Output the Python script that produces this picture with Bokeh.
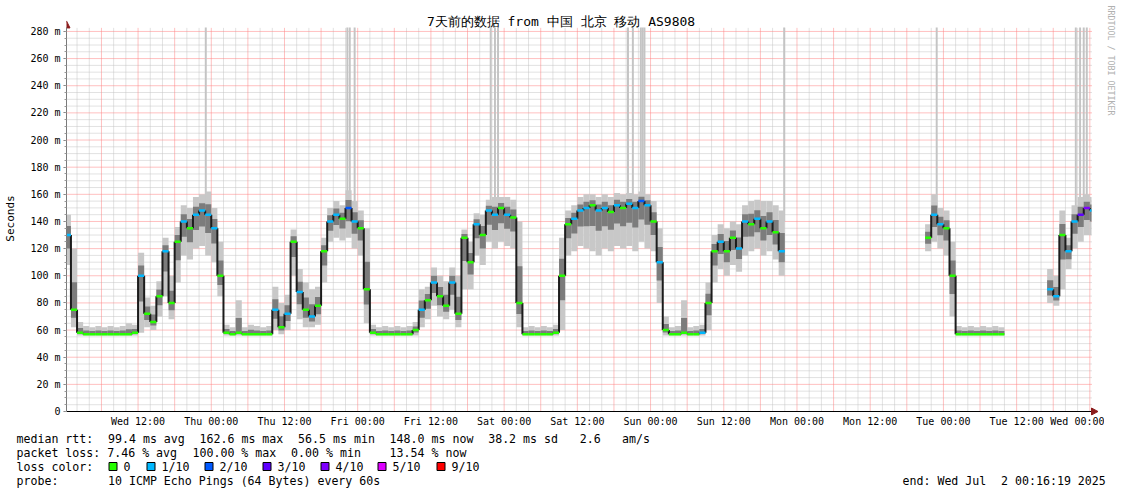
import re
import math
from bokeh.plotting import figure
from bokeh.models import Range1d, FixedTicker, ColumnDataSource
from bokeh.layouts import column, row
from bokeh.core.properties import value
from bokeh.embed import file_html
from bokeh.resources import INLINE

# ---------------- data (hour index 0 = Wed 2025-06-25 00:00) ----------------
title_text = "7天前的数据 from 中国 北京 移动 AS9808"
x_tick_hours = [12, 24, 36, 48, 60, 72, 84, 96, 108, 120, 132, 144, 156, 168]
x_tick_labels = ["Wed 12:00", "Thu 00:00", "Thu 12:00", "Fri 00:00", "Fri 12:00",
                 "Sat 00:00", "Sat 12:00", "Sun 00:00", "Sun 12:00", "Mon 00:00",
                 "Mon 12:00", "Tue 00:00", "Tue 12:00", "Wed 00:00"]
y_ticks = [0, 20, 40, 60, 80, 100, 120, 140, 160, 180, 200, 220, 240, 260, 280]
y_tick_labels = ["0", "20 m", "40 m", "60 m", "80 m", "100 m", "120 m", "140 m",
                 "160 m", "180 m", "200 m", "220 m", "240 m", "260 m", "280 m"]

N = None
median_ms = [
    130, 75, 58, 57, 57, 57, 57, 57, 57, 57, 57, 58,
    100, 72, 66, 85, 118, 80, 125, 140, 135, 145, 148, 145,
    135, 100, 58, 57, 58, 57, 57, 57, 57, 57, 75, 62,
    72, 125, 88, 75, 70, 78, 118, 140, 145, 142, 150, 140,
    135, 90, 58, 57, 57, 57, 57, 57, 57, 60, 75, 82,
    95, 85, 78, 95, 72, 128, 110, 138, 130, 148, 145, 150,
    145, 143, 80, 57, 57, 57, 57, 57, 58, 100, 138, 142,
    148, 150, 152, 148, 150, 147, 152, 150, 153, 150, 155, 152,
    140, 110, 60, 57, 57, 58, 57, 57, 58, 80, 118, 125,
    118, 128, 120, 140, 138, 142, 135, 140, 132, 118, N, N,
    N, N, N, N, N, N, N, N, N, N, N, N,
    N, N, N, N, N, N, N, N, N, 128, 145, 138,
    135, 100, 57, 57, 57, 57, 57, 57, 57, 57, N, N,
    N, N, N, N, N, 90, 85, 130, 118, 140, 145, 150,
    148,
]
smoke_lo_ms = [
    108, 62, 56, 56, 56, 56, 56, 56, 56, 56, 56, 56,
    58, 62, 60, 70, 85, 68, 95, 115, 112, 120, 122, 115,
    110, 85, 56, 56, 56, 56, 56, 56, 56, 56, 60, 57,
    60, 100, 68, 62, 62, 64, 95, 125, 128, 126, 128, 120,
    115, 65, 56, 56, 56, 56, 56, 56, 56, 56, 62, 68,
    78, 70, 68, 75, 62, 90, 90, 115, 108, 125, 120, 125,
    122, 120, 62, 56, 56, 56, 56, 56, 56, 60, 115, 118,
    122, 120, 118, 115, 120, 118, 122, 120, 122, 118, 125, 120,
    118, 80, 56, 56, 56, 56, 56, 56, 56, 60, 95, 105,
    100, 108, 103, 115, 118, 120, 115, 118, 112, 100, N, N,
    N, N, N, N, N, N, N, N, N, N, N, N,
    N, N, N, N, N, N, N, N, N, 118, 125, 120,
    115, 70, 56, 56, 56, 56, 56, 56, 56, 56, N, N,
    N, N, N, N, N, 80, 78, 90, 105, 120, 125, 130,
    130,
]
smoke_hi_ms = [
    145, 120, 66, 63, 62, 63, 62, 63, 62, 63, 65, 64,
    117, 84, 78, 96, 128, 100, 136, 152, 150, 158, 160, 162,
    150, 125, 64, 62, 82, 62, 64, 63, 62, 63, 92, 80,
    86, 134, 105, 95, 90, 92, 128, 150, 155, 152, 163, 155,
    148, 135, 64, 62, 63, 62, 63, 62, 63, 66, 90, 92,
    106, 100, 96, 106, 100, 134, 125, 146, 145, 156, 158, 158,
    158, 156, 140, 62, 63, 62, 63, 62, 64, 128, 148, 152,
    158, 160, 160, 158, 160, 158, 161, 160, 161, 160, 162, 160,
    155, 135, 70, 62, 63, 82, 62, 63, 64, 95, 130, 138,
    135, 140, 138, 152, 155, 156, 155, 155, 152, 148, N, N,
    N, N, N, N, N, N, N, N, N, N, N, N,
    N, N, N, N, N, N, N, N, N, 138, 160, 150,
    148, 125, 63, 62, 63, 62, 63, 62, 63, 62, N, N,
    N, N, N, N, N, 105, 100, 148, 128, 152, 158, 160,
    158,
]
# index into loss_labels / loss_colors
loss_level = [
    1, 0, 0, 0, 0, 0, 0, 0, 0, 0, 0, 0,
    1, 0, 0, 0, 1, 0, 0, 1, 0, 1, 1, 1,
    1, 0, 0, 0, 0, 0, 0, 0, 0, 0, 1, 0,
    1, 0, 1, 0, 1, 0, 0, 1, 1, 0, 2, 1,
    0, 0, 0, 0, 0, 0, 0, 0, 0, 0, 1, 0,
    1, 0, 0, 1, 0, 0, 0, 1, 0, 1, 1, 0,
    1, 0, 0, 0, 0, 0, 0, 0, 0, 0, 0, 1,
    1, 1, 0, 1, 1, 0, 1, 0, 1, 1, 2, 1,
    0, 1, 0, 0, 0, 0, 0, 0, 1, 0, 0, 1,
    0, 0, 1, 1, 0, 1, 0, 1, 0, 1, 0, 0,
    0, 0, 0, 0, 0, 0, 0, 0, 0, 0, 0, 0,
    0, 0, 0, 0, 0, 0, 0, 0, 0, 0, 1, 1,
    0, 0, 0, 0, 0, 0, 0, 0, 0, 0, 0, 0,
    0, 0, 0, 0, 0, 1, 1, 0, 1, 1, 3, 4,
    1,
]
# outlier pings above the top of the graph (hours)
spike_hours = [23.1, 46.3, 46.7, 47.5, 69.8, 70.5, 71.0, 92.3, 93.1,
               94.4, 94.7, 95.0, 117.9, 142.9, 165.7, 166.4, 167.0, 167.5]

loss_labels = ["0", "1/10", "2/10", "3/10", "4/10", "5/10", "9/10"]
loss_colors = ["#26ff00", "#00b8ff", "#0059ff", "#5e00ff", "#7e00ff", "#dd00ff", "#ff0000"]

legend_rtt = "median rtt:  99.4 ms avg  162.6 ms max  56.5 ms min  148.0 ms now  38.2 ms sd   2.6   am/s"
legend_loss = "packet loss: 7.46 % avg  100.00 % max  0.00 % min    13.54 % now"
legend_color = "loss color:"
legend_probe = "probe:       10 ICMP Echo Pings (64 Bytes) every 60s"
legend_end = "end: Wed Jul  2 00:16:19 2025"
watermark = "RRDTOOL / TOBI OETIKER"
y_label = "Seconds"

# ---------------- geometry (page pixels) ----------------
FONT = "DejaVu Sans Mono"
PX_H = 1025 / 168            # pixels per hour
PX_MS = 385 / 282.94         # pixels per ms
X0 = 16 / 60 + 19 / 3600     # graph start (Wed 00:16:19)
X1 = X0 + 168                # graph end
YTOP = 282.94                # top of the graph area (page y = 27)
LEFT_W = 20
SIDE_W = 17
MAIN_W = 1121 - LEFT_W - SIDE_W
MAIN_H = 429
CW = 7.04

def hx(px):      # page x -> hours
    return X0 + (px - 66) / PX_H

def my(py):      # page y -> ms
    return (412 - py) / PX_MS

def common(fig):
    fig.xgrid.visible = False
    fig.ygrid.visible = False
    fig.background_fill_color = "white"
    fig.border_fill_color = "white"
    fig.outline_line_color = None

def bare(w, h, xr, yr):
    f = figure(width=w, height=h, x_range=xr, y_range=yr, output_backend="svg",
               toolbar_location=None, title=None, min_border=0, frame_align=False,
               x_axis_location=None, y_axis_location=None,
               min_border_left=0, min_border_right=0, min_border_top=0, min_border_bottom=0)
    common(f)
    return f

# ---- main graph (frame spans page y 0..416, x 66..1098) ----
p = figure(width=MAIN_W, height=MAIN_H, x_range=Range1d(hx(66), hx(1098)),
           y_range=Range1d(my(416), my(0)), output_backend="svg",
           toolbar_location=None, title=None, frame_align=False,
           min_border_left=66 - LEFT_W, min_border_right=LEFT_W + MAIN_W - 1098,
           min_border_top=0, min_border_bottom=MAIN_H - 416)
common(p)

# grid (dotted)
minor_x = [h for h in range(2, 169, 2) if h % 6]
major_x = list(range(6, 169, 6))
minor_y = [v for v in range(5, 285, 5) if v % 20]
major_y = list(range(20, 281, 20))
p.segment(x0=minor_x, x1=minor_x, y0=0, y1=YTOP, line_color="#c4c4c4", line_dash="1 1", line_width=1)
p.segment(x0=X0, x1=X1, y0=minor_y, y1=minor_y, line_color="#c4c4c4", line_dash="1 1", line_width=1)
p.segment(x0=major_x, x1=major_x, y0=0, y1=YTOP, line_color="#ff8080", line_dash="1 1", line_width=1)
p.segment(x0=X0, x1=X1, y0=major_y, y1=major_y, line_color="#ff8080", line_dash="1 1", line_width=1)

# axes (x labels from the bokeh axis, its line redrawn at 0 below)
p.xaxis.ticker = FixedTicker(ticks=x_tick_hours, minor_ticks=[])
p.xaxis.major_label_overrides = {h: s for h, s in zip(x_tick_hours, x_tick_labels)}
p.xaxis.axis_line_color = None
p.xaxis.major_tick_line_color = None
p.xaxis.minor_tick_line_color = None
p.xaxis.major_tick_out = 0
p.xaxis.major_tick_in = 0
p.xaxis.minor_tick_out = 0
p.xaxis.major_label_standoff = 0
p.yaxis.ticker = FixedTicker(ticks=y_ticks, minor_ticks=list(range(0, 285, 5)))
p.yaxis.major_label_overrides = {v: s for v, s in zip(y_ticks, y_tick_labels)}
p.yaxis.bounds = (0, YTOP)
p.yaxis.axis_line_color = "#7a7a7a"
p.yaxis.major_tick_line_color = "#7a7a7a"
p.yaxis.minor_tick_line_color = "#9a9a9a"
p.yaxis.major_tick_out = 3
p.yaxis.major_tick_in = 0
p.yaxis.minor_tick_out = 2
p.yaxis.minor_tick_in = 0
p.yaxis.major_label_standoff = 3
for ax in (p.xaxis, p.yaxis):
    ax.major_label_text_font = FONT
    ax.major_label_text_font_size = "10px"
    ax.major_label_text_color = "black"

# data
valid = [i for i, m in enumerate(median_ms) if m is not None]
spk = ColumnDataSource(dict(left=[h - 0.16 for h in spike_hours],
                            right=[h + 0.16 for h in spike_hours],
                            bottom=[140] * len(spike_hours), top=[YTOP] * len(spike_hours)))
p.quad(left="left", right="right", bottom="bottom", top="top", source=spk,
       fill_color="#c4c4c4", line_color=None)

smoke = ColumnDataSource(dict(
    left=[max(i, X0) for i in valid], right=[min(i + 1, X1) for i in valid],
    bottom=[smoke_lo_ms[i] for i in valid], top=[smoke_hi_ms[i] for i in valid],
    ibottom=[median_ms[i] - (median_ms[i] - smoke_lo_ms[i]) * 0.45 for i in valid],
    itop=[median_ms[i] + (smoke_hi_ms[i] - median_ms[i]) * 0.45 for i in valid]))
p.quad(left="left", right="right", bottom="bottom", top="top", source=smoke,
       fill_color="#c8c8c8", line_color=None)
p.quad(left="left", right="right", bottom="ibottom", top="itop", source=smoke,
       fill_color="#7c7c7c", line_color=None)

conn = [i for i in valid if i - 1 in valid]
p.segment(x0=conn, x1=conn, y0=[median_ms[i - 1] for i in conn], y1=[median_ms[i] for i in conn],
          line_color="#1c1c1c", line_width=2)

med = ColumnDataSource(dict(x0=[max(i, X0) for i in valid], x1=[min(i + 1, X1) for i in valid],
                            y=[median_ms[i] for i in valid],
                            color=[loss_colors[loss_level[i]] for i in valid]))
p.segment(x0="x0", x1="x1", y0="y", y1="y", source=med, line_color="color", line_width=2.5)

# x axis line + arrow heads
p.segment(x0=[X0], x1=[hx(1093)], y0=[0], y1=[0], line_color="black", line_width=1)
p.patch(x=[hx(1091), hx(1091), hx(1097.5)], y=[my(408.5), my(415.5), 0],
        fill_color="#8c1c1c", line_color="#8c1c1c")
p.patch(x=[hx(62.5), hx(69.5), X0], y=[my(27.5), my(27.5), my(20.5)],
        fill_color="#8c1c1c", line_color="#8c1c1c")

# title
p.text(x=[hx(560.5)], y=[my(21)], text=[title_text], text_font=value(FONT),
       text_font_size=value("13px"), text_align="center", text_baseline="middle",
       text_color="black")

# ---- left strip: y axis title ----
lstrip = bare(LEFT_W, MAIN_H, Range1d(0, LEFT_W), Range1d(MAIN_H, 0))
lstrip.text(x=[10], y=[218], text=[y_label], angle=math.pi / 2, text_font=value(FONT),
            text_font_size=value("11px"), text_align="center", text_baseline="middle",
            text_color="black")

# ---- right strip: watermark ----
side = bare(SIDE_W, MAIN_H, Range1d(1121 - SIDE_W, 1121), Range1d(MAIN_H, 0))
side.text(x=[1110], y=[5], text=[watermark], angle=-math.pi / 2, text_font=value(FONT),
          text_font_size=value("8.3px"), text_align="left", text_baseline="middle",
          text_color="#b0b0b0")

# ---- legend block below ----
LEG_H = 63
leg = bare(1121, LEG_H, Range1d(0, 1121), Range1d(MAIN_H + LEG_H, MAIN_H))
tx, ty, tt = [], [], []

def legend_line(text, py, px0=16):
    for m in re.finditer(r"\S+(?: \S+)*", text):
        tx.append(px0 + m.start() * CW)
        ty.append(py)
        tt.append(m.group())

legend_line(legend_rtt, 438)
legend_line(legend_loss, 452)
legend_line(legend_color, 466)
legend_line(legend_probe, 480)
legend_line(legend_end, 480, px0=902)
box_x = [108, 146, 204, 262, 320, 377, 436]
for bx, txt in zip(box_x, loss_labels):
    tx.append(bx + 15)
    ty.append(466)
    tt.append(txt)
leg.text(x="x", y="y", text="text", source=ColumnDataSource(dict(x=tx, y=ty, text=tt)),
         text_font=value(FONT), text_font_size=value("11.6px"), text_align="left",
         text_baseline="middle", text_color="black")
leg.quad(left=[b + 0.5 for b in box_x], right=[b + 8.5 for b in box_x],
         top=[462] * len(box_x), bottom=[470] * len(box_x),
         fill_color=loss_colors, line_color="black", line_width=1)

layout = column(row(lstrip, p, side, spacing=0), leg, spacing=0)
open("out.html", "w").write(file_html(layout, INLINE))
